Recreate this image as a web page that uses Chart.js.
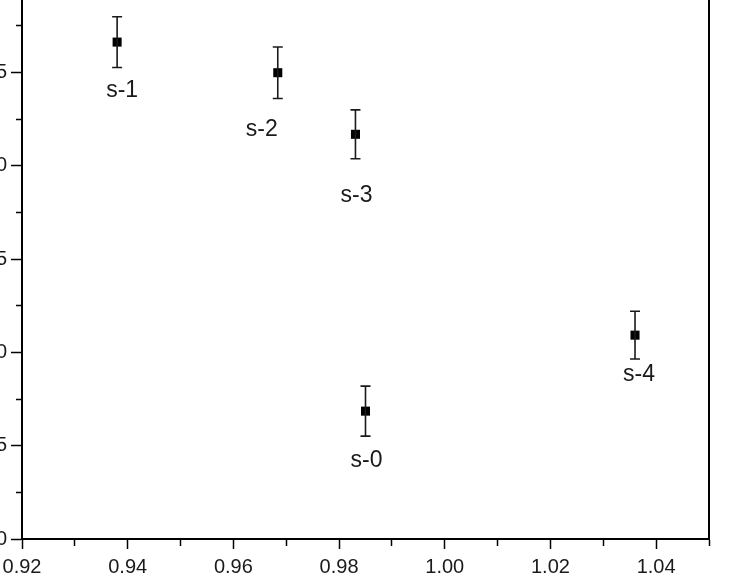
<!DOCTYPE html>
<html>
<head>
<meta charset="utf-8">
<script src="https://cdn.jsdelivr.net/npm/chart.js@4/dist/chart.umd.min.js"></script>
<style>
  html, body { margin: 0; padding: 0; background: #fff; overflow: hidden; }
  body { width: 750px; height: 576px; position: relative; }
  #plot { position: absolute; left: -70px; top: -40px; }
</style>
</head>
<body>
<canvas id="plot" width="840" height="640"></canvas>
<script>
// sample data
var sampleNames = ['s-0', 's-1', 's-2', 's-3', 's-4'];
var xValues = [0.985, 0.938, 0.9684, 0.9831, 1.036];
var yValues = [6.85, 26.62, 24.98, 21.68, 10.92];
var yErrors = [1.34, 1.36, 1.38, 1.31, 1.28];

// where each name sits relative to the bottom of its error bar
var labelShift = [[1, 25], [5, 23], [-16, 31], [1, 37], [4, 16]];

var ink = '#1a1a1a';
var fontName = '"Liberation Sans", Arial, sans-serif';

var points = xValues.map(function (x, i) {
    return { x: x, y: yValues[i] };
});

var errorBars = {
    id: 'errorBars',
    afterDatasetsDraw: function (chart) {
        var ctx = chart.ctx;
        var yScale = chart.scales.y;
        var meta = chart.getDatasetMeta(0);
        ctx.save();
        ctx.strokeStyle = ink;
        ctx.lineWidth = 1.6;
        meta.data.forEach(function (pt, i) {
            var top = yScale.getPixelForValue(yValues[i] + yErrors[i]);
            var bot = yScale.getPixelForValue(yValues[i] - yErrors[i]);
            ctx.beginPath();
            ctx.moveTo(pt.x, top); ctx.lineTo(pt.x, bot);
            ctx.moveTo(pt.x - 5, top); ctx.lineTo(pt.x + 5, top);
            ctx.moveTo(pt.x - 5, bot); ctx.lineTo(pt.x + 5, bot);
            ctx.stroke();

            ctx.fillStyle = ink;
            ctx.font = '23px ' + fontName;
            ctx.textAlign = 'center';
            ctx.textBaseline = 'middle';
            ctx.fillText(sampleNames[i], pt.x + labelShift[i][0], bot + labelShift[i][1]);
        });
        // right side of the frame
        var area = chart.chartArea;
        ctx.strokeStyle = '#000';
        ctx.lineWidth = 2;
        ctx.beginPath();
        ctx.moveTo(area.right, area.top);
        ctx.lineTo(area.right, area.bottom + 1);
        ctx.stroke();
        ctx.restore();
    }
};

function isMajorX(v) { return Math.round(v * 100) % 2 === 0; }
function isMajorY(v) { return Math.round(v * 10) % 50 === 0; }

var ctx = document.getElementById('plot').getContext('2d');
var chart = new Chart(ctx, {
    type: 'scatter',
    data: {
        datasets: [{
            data: points,
            pointStyle: 'rect',
            pointRadius: 6.4,
            pointBorderWidth: 0,
            backgroundColor: '#000',
            borderColor: '#000'
        }]
    },
    options: {
        responsive: false,
        animation: false,
        layout: { padding: { left: 0, top: 19, right: 61, bottom: 0 } },
        plugins: {
            legend: { display: false },
            tooltip: { enabled: false }
        },
        scales: {
            x: {
                type: 'linear',
                min: 0.92,
                max: 1.05,
                afterFit: function (scale) { scale.height = 61; },
                border: { display: true, color: '#000', width: 2 },
                grid: {
                    drawOnChartArea: false,
                    drawTicks: true,
                    tickLength: 10,
                    tickColor: '#000',
                    tickWidth: 1.5,
                    tickBorderDash: function (c) {
                        return c.tick && isMajorX(c.tick.value) ? [] : [6, 20];
                    }
                },
                ticks: {
                    stepSize: 0.01,
                    includeBounds: false,
                    maxRotation: 0,
                    autoSkip: false,
                    padding: 6,
                    color: ink,
                    font: { family: fontName, size: 20 },
                    callback: function (v) {
                        return isMajorX(v) ? v.toFixed(2) : '';
                    }
                }
            },
            y: {
                type: 'linear',
                min: 0,
                max: 30,
                afterFit: function (scale) { scale.width = 92; },
                border: { display: true, color: '#000', width: 2 },
                grid: {
                    drawOnChartArea: false,
                    drawTicks: true,
                    tickLength: 11,
                    tickColor: '#000',
                    tickWidth: 1.5,
                    tickBorderDash: function (c) {
                        return c.tick && isMajorY(c.tick.value) ? [] : [5, 5];
                    },
                    tickBorderDashOffset: function (c) {
                        return c.tick && isMajorY(c.tick.value) ? 0 : 5;
                    }
                },
                ticks: {
                    stepSize: 2.5,
                    autoSkip: false,
                    padding: 4,
                    color: ink,
                    font: { family: fontName, size: 20 },
                    callback: function (v) {
                        return isMajorY(v) ? String(v) : '';
                    }
                }
            }
        }
    },
    plugins: [errorBars]
});
</script>
</body>
</html>
